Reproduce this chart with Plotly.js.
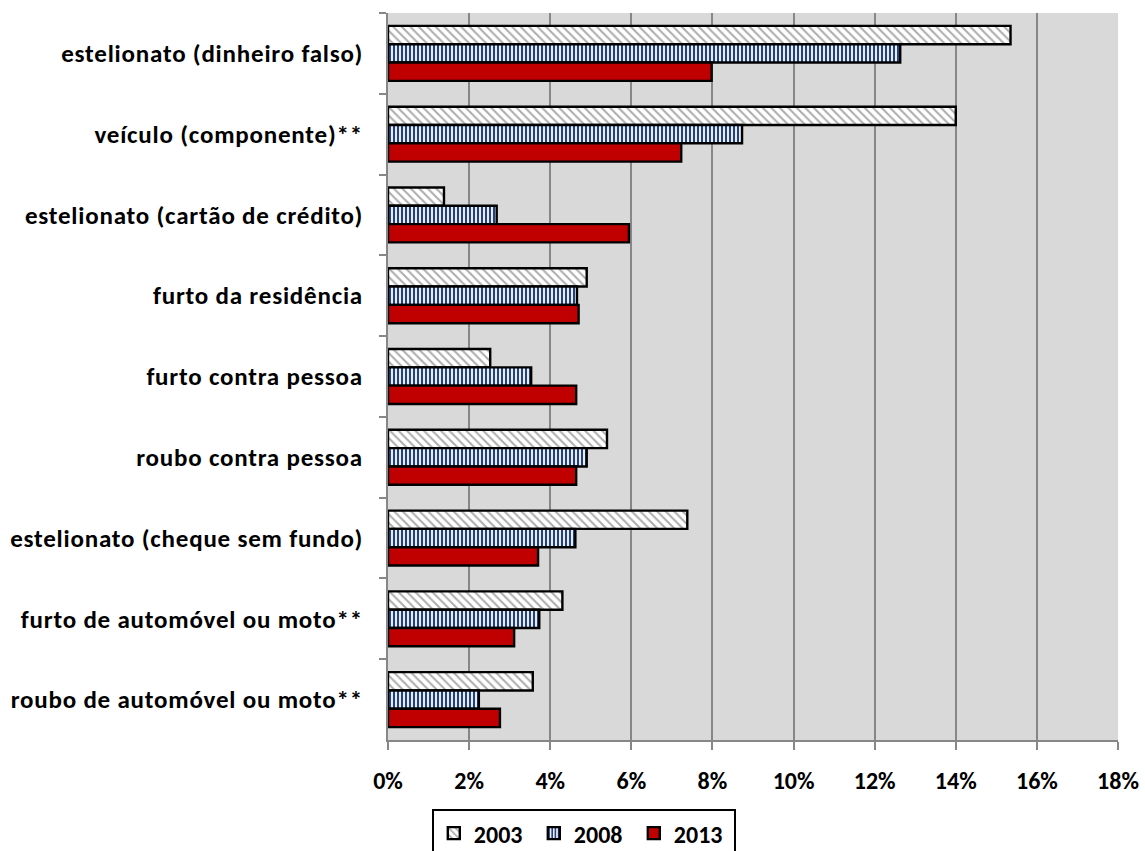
<!DOCTYPE html>
<html>
<head>
<meta charset="utf-8">
<script src="https://cdn.plot.ly/plotly-3.0.1.min.js"></script>
<style>
html,body{margin:0;padding:0;background:#fff;}
#chart{width:1145px;height:851px;}
#chart .ytick text{letter-spacing:0.8px;}
</style>
</head>
<body>
<div id="chart"></div>
<script>
const categories = [
  "estelionato (dinheiro falso)",
  "veículo (componente)**",
  "estelionato (cartão de crédito)",
  "furto da residência",
  "furto contra pessoa",
  "roubo contra pessoa",
  "estelionato (cheque sem fundo)",
  "furto de automóvel ou moto**",
  "roubo de automóvel ou moto**"
];
const years = ["2003", "2008", "2013"];
const values2003 = [15.35, 14.0, 1.38, 4.9, 2.52, 5.4, 7.38, 4.3, 3.57];
const values2008 = [12.63, 8.73, 2.68, 4.66, 3.53, 4.9, 4.62, 3.73, 2.24];
const values2013 = [7.98, 7.23, 5.94, 4.7, 4.64, 4.64, 3.7, 3.11, 2.76];
const xTicks = [0, 2, 4, 6, 8, 10, 12, 14, 16, 18];
const xTickLabels = xTicks.map(v => v + "%");

const FONT = "Carlito, Calibri, Lato, 'Noto Sans', sans-serif";
const outline = {color: "#000000", width: 2.4};

const traces = [
  {
    type: "bar", orientation: "h", name: years[0],
    y: categories, x: values2003,
    marker: {
      color: "#ffffff", line: outline,
      pattern: {shape: "\\", fgcolor: "#acacac", bgcolor: "#ffffff", size: 6, solidity: 0.33}
    },
    hoverinfo: "x+y"
  },
  {
    type: "bar", orientation: "h", name: years[1],
    y: categories, x: values2008,
    marker: {
      color: "#ffffff", line: outline,
      pattern: {shape: "|", fgcolor: "#24417f", bgcolor: "#e6edf7", size: 4, solidity: 0.5}
    },
    hoverinfo: "x+y"
  },
  {
    type: "bar", orientation: "h", name: years[2],
    y: categories, x: values2013,
    marker: {color: "#c00000", line: outline},
    hoverinfo: "x+y"
  }
];

const layout = {
  width: 1145, height: 851,
  margin: {l: 388, r: 27, t: 13, b: 111, pad: 0, autoexpand: false},
  paper_bgcolor: "#ffffff",
  plot_bgcolor: "#d9d9d9",
  barmode: "group",
  bargap: 0.32,
  bargroupgap: 0,
  font: {family: FONT, size: 24, color: "#000000"},
  xaxis: {
    range: [0, 18],
    tickvals: xTicks, ticktext: xTickLabels,
    showgrid: true, gridcolor: "#878787", gridwidth: 2,
    zeroline: false,
    showline: true, linecolor: "#878787", linewidth: 2,
    ticks: "outside", ticklen: 8, tickwidth: 2, tickcolor: "#878787",
    ticklabelstandoff: 10,
    automargin: false,
    tickfont: {family: FONT, size: 24, color: "#000000", weight: "bold"},
    fixedrange: true
  },
  yaxis: {
    autorange: "reversed",
    type: "category",
    showgrid: false,
    zeroline: false,
    showline: true, linecolor: "#878787", linewidth: 2,
    ticks: "outside", ticklen: 7, tickwidth: 2, tickcolor: "#878787",
    tickson: "boundaries",
    ticklabelstandoff: 18,
    automargin: false,
    tickfont: {family: FONT, size: 25, color: "#000000", weight: "bold"},
    fixedrange: true
  },
  legend: {
    orientation: "h",
    x: 0.06, xanchor: "left",
    y: -0.095, yanchor: "top",
    bordercolor: "#000000", borderwidth: 2,
    bgcolor: "#ffffff",
    font: {family: FONT, size: 24, color: "#000000", weight: "bold"},
    itemwidth: 30,
    entrywidth: 55, entrywidthmode: "pixels",
    traceorder: "normal"
  },
  showlegend: true
};

Plotly.newPlot("chart", traces, layout, {displayModeBar: false, staticPlot: true});
</script>
</body>
</html>
